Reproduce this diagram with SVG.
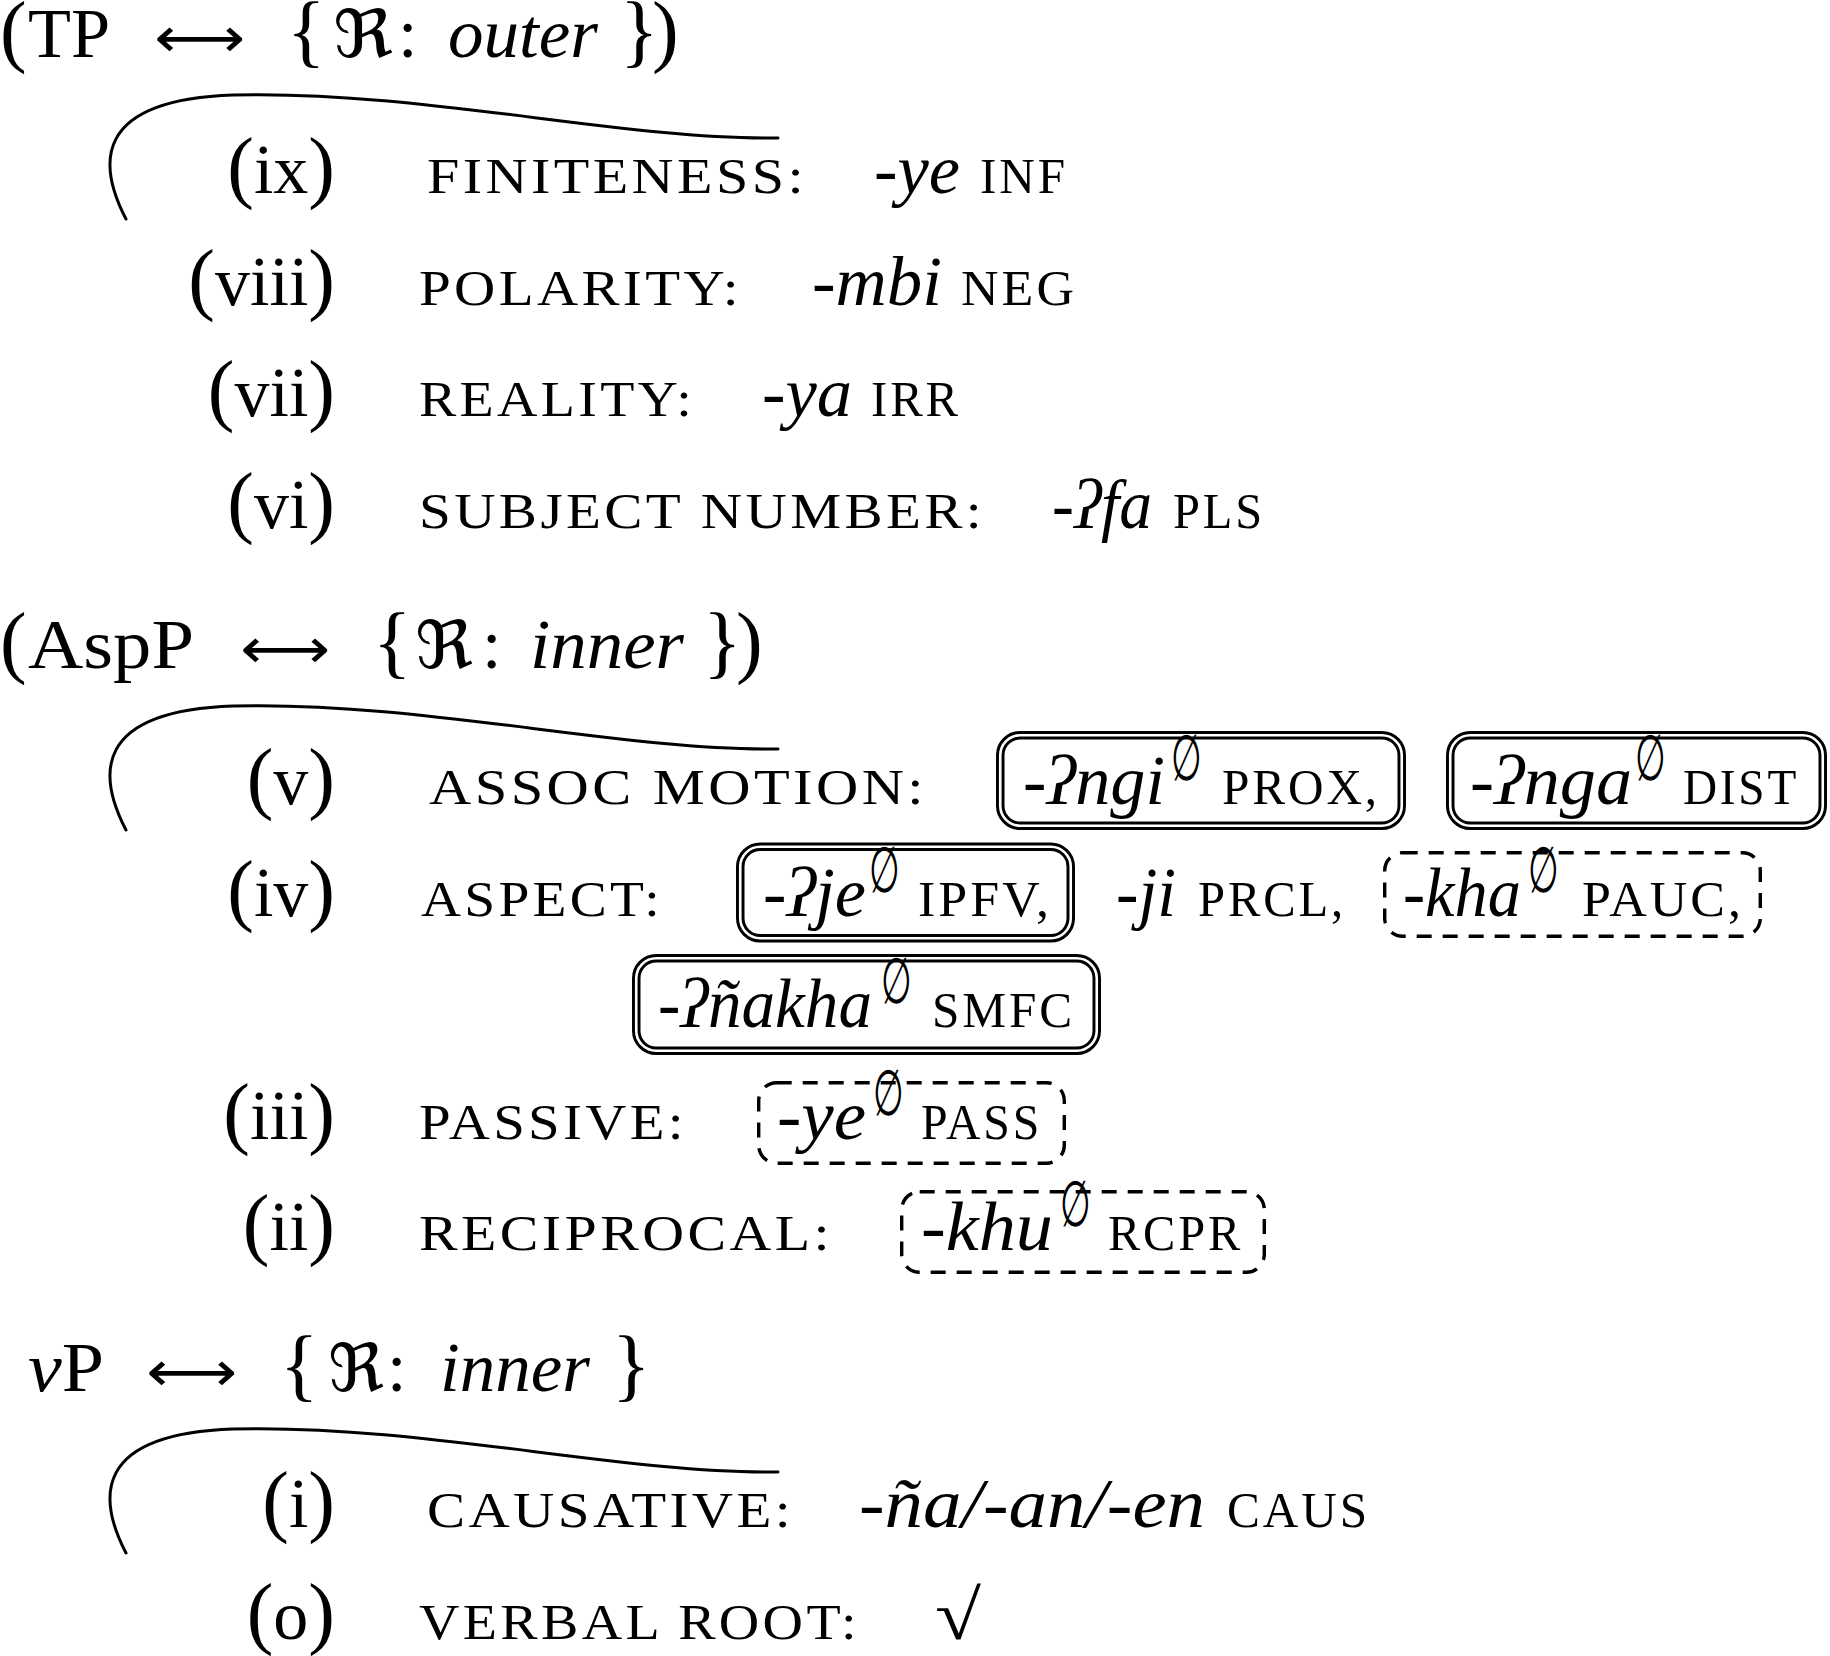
<svg xmlns="http://www.w3.org/2000/svg" width="1830" height="1656" viewBox="0 0 1830 1656">
<style>
text{font-family:"Liberation Serif","DejaVu Serif",serif;fill:#000}
.rm{font-size:70px}
.it{font-size:70px;font-style:italic}
.sc{font-size:51px;letter-spacing:3px}
.par{font-size:80px}
.arr{font-family:"DejaVu Sans","Liberation Sans",sans-serif;font-size:56px}
.frak{font-family:"DejaVu Serif","DejaVu Sans",serif;font-size:66px}
.emp{font-family:"DejaVu Sans",sans-serif;font-size:64px}
.curve{fill:none;stroke:#000;stroke-width:3;stroke-linecap:round}
.dblo{fill:none;stroke:#000;stroke-width:8.5}
.dbli{fill:none;stroke:#fff;stroke-width:2.6}
.dash{fill:none;stroke:#000;stroke-width:3.4;stroke-dasharray:15 11}
</style>
<defs>
<path id="arc" d="M126 219 C98 165 92 100 233 95 C420 90 620 140 778 138"/>
</defs>
<rect width="1830" height="1656" fill="#fff"/>

<g id="curves">
<use href="#arc" class="curve"/>
<use href="#arc" class="curve" transform="translate(0,611)"/>
<use href="#arc" class="curve" transform="translate(0,1334)"/>
</g>

<g id="hdr-tp">
<text x="0" y="57" class="par">(</text>
<text x="28" y="57" class="rm" textLength="82" lengthAdjust="spacingAndGlyphs">TP</text>
<text x="154" y="57" class="arr" textLength="91" lengthAdjust="spacingAndGlyphs">⟷</text>
<text x="287" y="57" class="par">{</text>
<text x="333" y="57" class="frak" textLength="60" lengthAdjust="spacingAndGlyphs">ℜ</text>
<text x="398" y="57" class="rm">:</text>
<text x="448" y="57" class="it" textLength="150" lengthAdjust="spacingAndGlyphs">outer</text>
<text x="620" y="57" class="par">}</text>
<text x="652" y="57" class="par">)</text>
</g>

<g id="row-ix">
<text x="335" y="193" text-anchor="end"><tspan class="par">(</tspan><tspan class="rm">ix</tspan><tspan class="par">)</tspan></text>
<text x="427" y="193" class="sc" textLength="380" lengthAdjust="spacingAndGlyphs">FINITENESS:</text>
<text x="874" y="193" class="it" textLength="86" lengthAdjust="spacingAndGlyphs">-ye</text>
<text x="980" y="193" class="sc" textLength="88" lengthAdjust="spacingAndGlyphs">INF</text>
</g>

<g id="row-viii">
<text x="335" y="304.5" text-anchor="end"><tspan class="par">(</tspan><tspan class="rm">viii</tspan><tspan class="par">)</tspan></text>
<text x="419" y="304.5" class="sc" textLength="323" lengthAdjust="spacingAndGlyphs">POLARITY:</text>
<text x="812" y="304.5" class="it" textLength="130" lengthAdjust="spacingAndGlyphs">-mbi</text>
<text x="961" y="304.5" class="sc" textLength="116" lengthAdjust="spacingAndGlyphs">NEG</text>
</g>

<g id="row-vii">
<text x="335" y="416" text-anchor="end"><tspan class="par">(</tspan><tspan class="rm">vii</tspan><tspan class="par">)</tspan></text>
<text x="419" y="416" class="sc" textLength="276" lengthAdjust="spacingAndGlyphs">REALITY:</text>
<text x="762" y="416" class="it" textLength="90" lengthAdjust="spacingAndGlyphs">-ya</text>
<text x="871" y="416" class="sc" textLength="90" lengthAdjust="spacingAndGlyphs">IRR</text>
</g>

<g id="row-vi">
<text x="335" y="527.5" text-anchor="end"><tspan class="par">(</tspan><tspan class="rm">vi</tspan><tspan class="par">)</tspan></text>
<text x="419" y="527.5" class="sc" textLength="566" lengthAdjust="spacingAndGlyphs">SUBJECT NUMBER:</text>
<text x="1052" y="527.5" class="it" textLength="100" lengthAdjust="spacingAndGlyphs">-ʔfa</text>
<text x="1173" y="527.5" class="sc" textLength="92" lengthAdjust="spacingAndGlyphs">PLS</text>
</g>

<g id="hdr-aspp">
<text x="0" y="668" class="par">(</text>
<text x="28" y="668" class="rm" textLength="166" lengthAdjust="spacingAndGlyphs">AspP</text>
<text x="240" y="668" class="arr" textLength="90" lengthAdjust="spacingAndGlyphs">⟷</text>
<text x="373" y="668" class="par">{</text>
<text x="415" y="668" class="frak" textLength="58" lengthAdjust="spacingAndGlyphs">ℜ</text>
<text x="482" y="668" class="rm">:</text>
<text x="530" y="668" class="it" textLength="154" lengthAdjust="spacingAndGlyphs">inner</text>
<text x="703" y="668" class="par">}</text>
<text x="736" y="668" class="par">)</text>
</g>

<g id="row-v">
<text x="335" y="804" text-anchor="end"><tspan class="par">(</tspan><tspan class="rm">v</tspan><tspan class="par">)</tspan></text>
<text x="429" y="804" class="sc" textLength="498" lengthAdjust="spacingAndGlyphs">ASSOC MOTION:</text>
</g>
<g id="box-prox">
<rect x="1000.25" y="735.25" width="401.5" height="90.5" rx="20" class="dblo"/>
<rect x="1000.25" y="735.25" width="401.5" height="90.5" rx="20" class="dbli"/>
<text x="1023" y="804" class="it" textLength="142" lengthAdjust="spacingAndGlyphs">-ʔngi</text>
<text class="emp" transform="translate(1171,780) scale(0.55,1)">∅</text>
<text x="1222" y="804" class="sc" textLength="158" lengthAdjust="spacingAndGlyphs">PROX,</text>
</g>
<g id="box-dist">
<rect x="1450.25" y="735.25" width="372.5" height="90.5" rx="20" class="dblo"/>
<rect x="1450.25" y="735.25" width="372.5" height="90.5" rx="20" class="dbli"/>
<text x="1470" y="804" class="it" textLength="162" lengthAdjust="spacingAndGlyphs">-ʔnga</text>
<text class="emp" transform="translate(1635,780) scale(0.55,1)">∅</text>
<text x="1683" y="804" class="sc" textLength="116" lengthAdjust="spacingAndGlyphs">DIST</text>
</g>

<g id="row-iv">
<text x="335" y="915.5" text-anchor="end"><tspan class="par">(</tspan><tspan class="rm">iv</tspan><tspan class="par">)</tspan></text>
<text x="421" y="915.5" class="sc" textLength="242" lengthAdjust="spacingAndGlyphs">ASPECT:</text>
<text x="1116" y="915.5" class="it" textLength="60" lengthAdjust="spacingAndGlyphs">-ji</text>
<text x="1198" y="915.5" class="sc" textLength="148" lengthAdjust="spacingAndGlyphs">PRCL,</text>
</g>
<g id="box-ipfv">
<rect x="740.25" y="846.75" width="330.5" height="91.5" rx="20" class="dblo"/>
<rect x="740.25" y="846.75" width="330.5" height="91.5" rx="20" class="dbli"/>
<text x="763" y="915.5" class="it" textLength="103" lengthAdjust="spacingAndGlyphs">-ʔje</text>
<text class="emp" transform="translate(869,891.5) scale(0.55,1)">∅</text>
<text x="918" y="915.5" class="sc" textLength="134" lengthAdjust="spacingAndGlyphs">IPFV,</text>
</g>
<g id="box-pauc">
<rect x="1384.7" y="852.7" width="375.6" height="83.6" rx="18" class="dash"/>
<text x="1403" y="915.5" class="it" textLength="118" lengthAdjust="spacingAndGlyphs">-kha</text>
<text class="emp" transform="translate(1528,891.5) scale(0.55,1)">∅</text>
<text x="1582" y="915.5" class="sc" textLength="162" lengthAdjust="spacingAndGlyphs">PAUC,</text>
</g>
<g id="box-smfc">
<rect x="636.25" y="958.25" width="460.5" height="92.5" rx="20" class="dblo"/>
<rect x="636.25" y="958.25" width="460.5" height="92.5" rx="20" class="dbli"/>
<text x="658" y="1027" class="it" textLength="214" lengthAdjust="spacingAndGlyphs">-ʔñakha</text>
<text class="emp" transform="translate(881,1003) scale(0.55,1)">∅</text>
<text x="932" y="1027" class="sc" textLength="143" lengthAdjust="spacingAndGlyphs">SMFC</text>
</g>

<g id="row-iii">
<text x="335" y="1138.5" text-anchor="end"><tspan class="par">(</tspan><tspan class="rm">iii</tspan><tspan class="par">)</tspan></text>
<text x="419" y="1138.5" class="sc" textLength="268" lengthAdjust="spacingAndGlyphs">PASSIVE:</text>
</g>
<g id="box-pass">
<rect x="758.7" y="1082.7" width="305.6" height="80.6" rx="18" class="dash"/>
<text x="777" y="1138.5" class="it" textLength="89" lengthAdjust="spacingAndGlyphs">-ye</text>
<text class="emp" transform="translate(873,1114.5) scale(0.55,1)">∅</text>
<text x="921" y="1138.5" class="sc" textLength="121" lengthAdjust="spacingAndGlyphs">PASS</text>
</g>

<g id="row-ii">
<text x="335" y="1250" text-anchor="end"><tspan class="par">(</tspan><tspan class="rm">ii</tspan><tspan class="par">)</tspan></text>
<text x="419" y="1250" class="sc" textLength="414" lengthAdjust="spacingAndGlyphs">RECIPROCAL:</text>
</g>
<g id="box-rcpr">
<rect x="901.7" y="1191.7" width="362.6" height="80.6" rx="18" class="dash"/>
<text x="921" y="1250" class="it" textLength="132" lengthAdjust="spacingAndGlyphs">-khu</text>
<text class="emp" transform="translate(1060,1226) scale(0.55,1)">∅</text>
<text x="1108" y="1250" class="sc" textLength="135" lengthAdjust="spacingAndGlyphs">RCPR</text>
</g>

<g id="hdr-vp">
<text x="28" y="1391" class="rm" textLength="76" lengthAdjust="spacingAndGlyphs"><tspan font-style="italic">v</tspan>P</text>
<text x="146" y="1391" class="arr" textLength="91" lengthAdjust="spacingAndGlyphs">⟷</text>
<text x="280" y="1391" class="par">{</text>
<text x="328" y="1391" class="frak" textLength="56" lengthAdjust="spacingAndGlyphs">ℜ</text>
<text x="387" y="1391" class="rm">:</text>
<text x="440" y="1391" class="it" textLength="150" lengthAdjust="spacingAndGlyphs">inner</text>
<text x="612" y="1391" class="par">}</text>
</g>

<g id="row-i">
<text x="335" y="1527" text-anchor="end"><tspan class="par">(</tspan><tspan class="rm">i</tspan><tspan class="par">)</tspan></text>
<text x="427" y="1527" class="sc" textLength="367" lengthAdjust="spacingAndGlyphs">CAUSATIVE:</text>
<text x="859" y="1527" class="it" textLength="346" lengthAdjust="spacingAndGlyphs">-ña/-an/-en</text>
<text x="1227" y="1527" class="sc" textLength="143" lengthAdjust="spacingAndGlyphs">CAUS</text>
</g>

<g id="row-o">
<text x="335" y="1638.5" text-anchor="end"><tspan class="par">(</tspan><tspan class="rm">o</tspan><tspan class="par">)</tspan></text>
<text x="419" y="1638.5" class="sc" textLength="441" lengthAdjust="spacingAndGlyphs">VERBAL ROOT:</text>
<text x="935" y="1638.5" class="rm" textLength="46" lengthAdjust="spacingAndGlyphs">√</text>
</g>
</svg>
